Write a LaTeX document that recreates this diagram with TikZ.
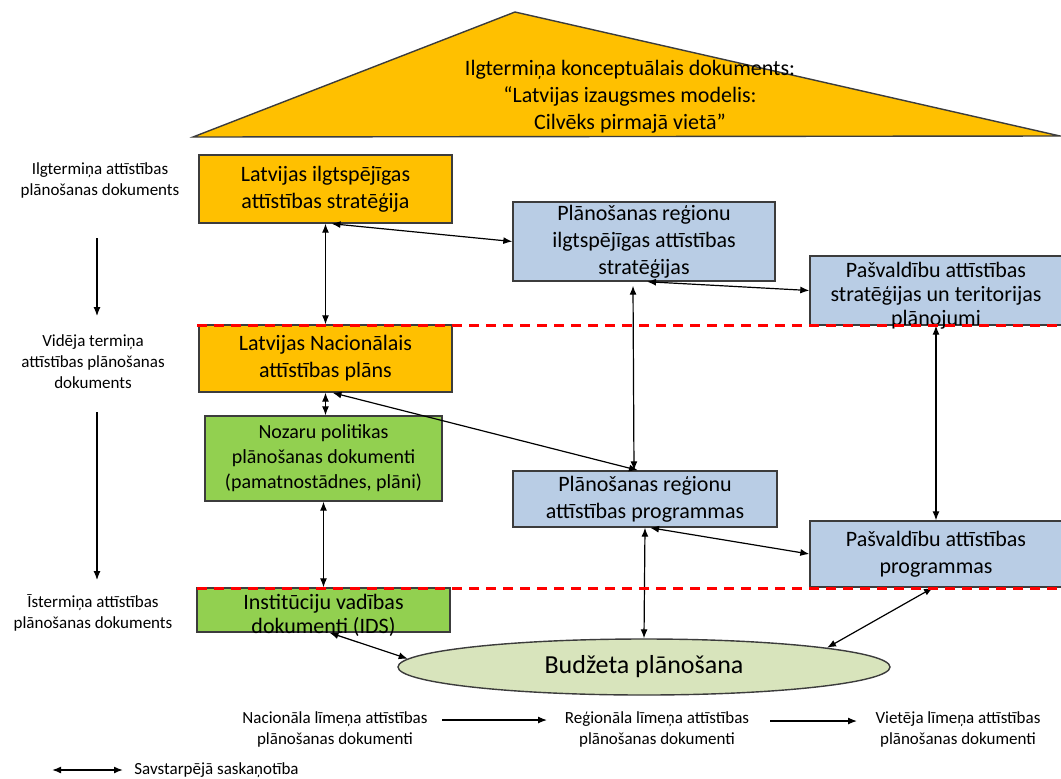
\documentclass[tikz,border=0pt]{standalone}
\usepackage{fontspec}
\setmainfont{Carlito}
\usetikzlibrary{arrows.meta,shapes.geometric}

\definecolor{orgold}{RGB}{255,192,0}
\definecolor{regblue}{RGB}{185,205,229}
\definecolor{natgreen}{RGB}{146,208,80}
\definecolor{budgreen}{RGB}{216,228,188}
\definecolor{framegray}{RGB}{60,60,60}

\newcommand{\lineLeft }{197}
\newcommand{\lineRight}{1061}
\newcommand{\upperY   }{325}
\newcommand{\lowerY   }{588}
\newcommand{\sideX    }{97}

\tikzset{
  docbox/.style={draw=framegray, line width=0.7pt, inner sep=0pt, align=center,
                 font=\fontsize{11}{13.5}\selectfont},
  boxtext/.style={inner sep=0pt, align=center, font=\fontsize{11}{12}\selectfont},
  sidelabel/.style={inner sep=0pt, align=center, font=\fontsize{8.5}{10.5}\selectfont},
  link/.style={{Latex[length=4.5pt,width=3.5pt]}-{Latex[length=4.5pt,width=3.5pt]}, line width=0.6pt},
  flow/.style={-{Latex[length=4.5pt,width=3.5pt]}, line width=0.6pt},
  redline/.style={red, line width=1.5pt, dash pattern=on 5pt off 3.5pt}
}

\begin{document}
\begin{tikzpicture}[x=0.5pt, y=-0.5pt]

  \useasboundingbox (0,0) rectangle (1061,778);
  \clip (0,0) rectangle (1061,778);

  % Roof:
  \draw[fill=orgold, draw=framegray, line width=0.7pt] (193,137) -- (515,12) -- (1060,136) -- cycle;
  \node[boxtext, font=\fontsize{11}{13.5}\selectfont] (concept) at (630,97)
    {Ilgtermiņa konceptuālais dokuments:\\“Latvijas izaugsmes modelis:\\Cilvēks pirmajā vietā”};

  % National level:
  \node[docbox, fill=orgold, minimum width=126.5pt, minimum height=34pt] (lis) at (325.5,189)
    {Latvijas ilgtspējīgas\\attīstības stratēģija};
  \node[docbox, fill=orgold, minimum width=126.5pt, minimum height=33.5pt] (nap) at (325.5,358.5)
    {Latvijas Nacionālais\\attīstības plāns};
  \node[docbox, fill=natgreen, font=\fontsize{10}{12.5}\selectfont,
        minimum width=118.5pt, minimum height=42.5pt] (nozaru) at (323.5,458.5)
    {Nozaru politikas\\plānošanas dokumenti\\(pamatnostādnes, plāni)};
  \node[docbox, fill=natgreen, minimum width=126.5pt, minimum height=22pt,
        label={[boxtext, yshift=-2.5pt]center:Institūciju vadības\\dokumenti (IDS)}] (ids) at (323.5,610) {};

  % Regional level:
  \node[docbox, fill=regblue, minimum width=131pt, minimum height=39.5pt] (prsiltsp) at (644,241.5)
    {Plānošanas reģionu\\ilgtspējīgas attīstības\\stratēģijas};
  \node[docbox, fill=regblue, minimum width=132pt, minimum height=28pt] (prsprog) at (645,499)
    {Plānošanas reģionu\\attīstības programmas};

  % Local level:
  \node[docbox, fill=regblue, minimum width=126pt, minimum height=34.5pt,
        label={[boxtext, yshift=-2.75pt]center:Pašvaldību attīstības\\stratēģijas un teritorijas\\plānojumi}] (pasvstr) at (936,290.5) {};
  \node[docbox, fill=regblue, minimum width=126pt, minimum height=33pt] (pasvprog) at (936,554)
    {Pašvaldību attīstības\\programmas};

  % Budget:
  \node[ellipse, draw=framegray, line width=0.7pt, fill=budgreen, inner sep=0pt,
        minimum width=246pt, minimum height=28pt, font=\fontsize{13}{15}\selectfont] (budget) at (644,667)
    {Budžeta plānošana};

  % Coordination:
  \draw[link] (lis.south) -- (nap.north);
  \draw[link] ([xshift=3pt]lis.south) -- (prsiltsp.west);
  \draw[link] ([xshift=1.5pt]prsiltsp.south) -- (pasvstr.west);
  \draw[link] ([xshift=-5.5pt,yshift=-2pt]prsiltsp.south) -- ([xshift=-5.5pt]prsprog.north);
  \draw[link] (pasvstr.south) -- (pasvprog.north);
  \draw[link] (nap.south) -- (nap.south |- nozaru.north);
  \draw[link] ([xshift=3.5pt]nap.south) -- ([xshift=-3.5pt]prsprog.north);
  \draw[link] (nozaru.south) -- (ids.north);
  \draw[link] ([xshift=2.5pt]prsprog.south) -- (pasvprog.west);
  \draw[link] (prsprog.south) -- (budget.north);
  \draw[link] ([xshift=-1.5pt]pasvprog.south) -- (budget.6);
  \draw[link] ([xshift=3pt]ids.south) -- (budget.178);

  % Term levels:
  \node[sidelabel] (ilgL) at (100,180) {Ilgtermiņa attīstības\\plānošanas dokuments};
  \node[sidelabel] (vidL) at (93,362) {Vidēja termiņa\\attīstības plānošanas\\dokuments};
  \node[sidelabel] (istL) at (93,613) {Īstermiņa attīstības\\plānošanas dokuments};
  \coordinate (ilgE) at (\sideX,238);
  \coordinate (vidS) at (\sideX,316);
  \coordinate (vidE) at (\sideX,412);
  \coordinate (istS) at (\sideX,580);
  \draw[flow] (ilgE) -- (vidS);
  \draw[flow] (vidE) -- (istS);

  % Planning levels:
  \node[sidelabel] (nacL) at (335,729) {Nacionāla līmeņa attīstības\\plānošanas dokumenti};
  \node[sidelabel] (regL) at (657,729) {Reģionāla līmeņa attīstības\\plānošanas dokumenti};
  \node[sidelabel] (vieL) at (958,729) {Vietēja līmeņa attīstības\\plānošanas dokumenti};
  \coordinate (nacE) at (442,720);
  \coordinate (regS) at (547,720);
  \coordinate (regE) at (770,721);
  \coordinate (vieS) at (857,721);
  \draw[flow] (nacE) -- (regS);
  \draw[flow] (regE) -- (vieS);

  % Legend:
  \coordinate (legA) at (52,770);
  \coordinate (legB) at (123,770);
  \draw[link, line width=0.8pt] (legA) -- (legB);
  \node[sidelabel, anchor=west] (legend) at (134,770) {Savstarpējā saskaņotība};

  % Dashed borders:
  \draw[redline] (\lineLeft,\upperY) -- (\lineRight,\upperY);
  \draw[redline] (\lineLeft,\lowerY) -- (\lineRight,\lowerY);

\end{tikzpicture}
\end{document}
